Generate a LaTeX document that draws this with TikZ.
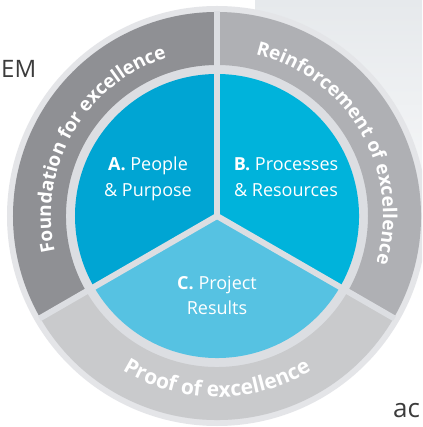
\documentclass[tikz,border=0pt]{standalone}
\usepackage{fontspec}
\setmainfont{Open Sans}
\usetikzlibrary{decorations.text}
\definecolor{cA}{HTML}{00A5D3}
\definecolor{cB}{HTML}{00B3DB}
\definecolor{cC}{HTML}{56C2E2}
\definecolor{rF}{HTML}{8F9094}
\definecolor{rR}{HTML}{AFB0B4}
\definecolor{rP}{HTML}{C9CACC}
\definecolor{divc}{HTML}{DCDEE2}
\definecolor{outc}{HTML}{E4E5E8}
\definecolor{bgtop}{HTML}{E6E9EC}
\definecolor{labc}{HTML}{3C3C3C}
\newcommand\ringfnt{\fontsize{19}{19}\selectfont\bfseries}
\newcommand\ringfntbig{\fontsize{21}{21}\selectfont\bfseries}
\tikzset{
  inlabel/.style={text=white, font=\fontsize{18}{18}\selectfont, anchor=base, inner sep=0pt},
  ringtext/.style={decorate, decoration={text along path, text align=center, text color=white, text={|\ringfnt|#1}}},
  ringtextbig/.style={decorate, decoration={text along path, text align=center, text color=white, text={|\ringfntbig|#1}}},
  divider/.style={draw=divc, line width=6pt},
  sidelabel/.style={text=labc, anchor=base west, inner sep=0pt}
}
\begin{document}
\begin{tikzpicture}[x=1pt,y=1pt]
\useasboundingbox (-217,-211) rectangle (205,216);
\clip (-217,-211) rectangle (205,216);
% background
\fill[white] (-217,-211) rectangle (205,216);
\shade[top color=bgtop, bottom color=white] (38,216) rectangle (205,-90);
% base disk (borders)
\fill[outc] (0,0) circle (210);
\fill[divc] (0,0) circle (204);
% ring segments
\fill[rF] (90:204) arc[start angle=90,end angle=210,radius=204] -- (210:151) arc[start angle=210,end angle=90,radius=151] -- cycle;
\fill[rR] (-30:204) arc[start angle=-30,end angle=90,radius=204] -- (90:151) arc[start angle=90,end angle=-30,radius=151] -- cycle;
\fill[rP] (210:204) arc[start angle=210,end angle=330,radius=204] -- (330:151) arc[start angle=330,end angle=210,radius=151] -- cycle;
% wedges
\fill[cA] (0,0) -- (90:142) arc[start angle=90,end angle=210,radius=142] -- cycle;
\fill[cB] (0,0) -- (-30:142) arc[start angle=-30,end angle=90,radius=142] -- cycle;
\fill[cC] (0,0) -- (210:142) arc[start angle=210,end angle=330,radius=142] -- cycle;
% dividers
\coordinate (ctr) at (0,0);
\coordinate (d1) at (90:205);
\coordinate (d2) at (210:205);
\coordinate (d3) at (330:205);
\draw[divider] (ctr) -- (d1);
\draw[divider] (ctr) -- (d2);
\draw[divider] (ctr) -- (d3);
% ring texts
\path[ringtext={Foundation for excellence}] (210:166) arc[start angle=210,end angle=90,radius=166];
\path[ringtext={Reinforcement of excellence}] (90:166) arc[start angle=90,end angle=-30,radius=166];
\path[ringtextbig={Proof of excellence}] (210:181) arc[start angle=210,end angle=330,radius=181];
% inner labels
\node[inlabel] (A1) at (-69,45) {\textbf{A.} People};
\node[inlabel] (A2) at (-69,19) {\& Purpose};
\node[inlabel] (B1) at (69,45) {\textbf{B.} Processes};
\node[inlabel] (B2) at (69,19) {\& Resources};
\node[inlabel] (C1) at (0,-74) {\textbf{C.} Project};
\node[inlabel] (C2) at (0,-99) {Results};
% side labels
\node[sidelabel, font=\fontsize{24}{24}\selectfont] (em) at (-216,138) {EM};
\node[sidelabel, font=\fontsize{26}{26}\selectfont] (ac) at (176,-201) {ac};
\end{tikzpicture}
\end{document}
